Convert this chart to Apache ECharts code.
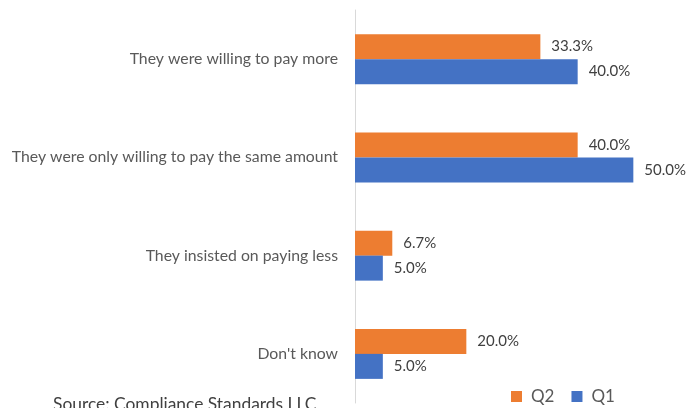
<!DOCTYPE html>
<html>
<head>
<meta charset="utf-8">
<script src="https://cdn.jsdelivr.net/npm/echarts@6/dist/echarts.min.js"></script>
<style>
  html, body { margin: 0; padding: 0; background: #fff; }
  #chart { width: 694px; height: 408px; }
</style>
</head>
<body>
<div id="chart"></div>
<script>
// Survey answers, top to bottom
const categories = [
  'They were willing to pay more',
  'They were only willing to pay the same amount',
  'They insisted on paying less',
  "Don't know"
];
// Share of respondents (%) per quarter
const q2Values = [33.3, 40.0, 6.7, 20.0];
const q1Values = [40.0, 50.0, 5.0, 5.0];
const seriesNames = ['Q2', 'Q1'];
const sourceNote = 'Source: Compliance Standards LLC';

const FONT = 'Lato, "Open Sans", sans-serif';

const chart = echarts.init(document.getElementById('chart'));

const valueLabel = {
  show: true,
  position: 'right',
  distance: 11,
  color: '#404040',
  fontFamily: FONT,
  fontSize: 15,
  formatter: p => p.value.toFixed(1) + '%'
};

chart.setOption({
  animation: false,
  grid: { left: 355, right: 5, top: 10, bottom: 5, containLabel: false },
  xAxis: {
    type: 'value',
    min: 0,
    max: 60,
    show: false
  },
  yAxis: {
    type: 'category',
    data: categories,
    inverse: true,
    axisLine: { show: true, lineStyle: { color: '#d9d9d9', width: 1 } },
    axisTick: { show: false },
    axisLabel: {
      margin: 17,
      color: '#595959',
      fontFamily: FONT,
      fontSize: 15.8
    }
  },
  legend: {
    data: seriesNames,
    left: 511,
    top: 388,
    padding: 0,
    itemWidth: 11,
    itemHeight: 11,
    itemGap: 17,
    icon: 'rect',
    textStyle: { color: '#595959', fontFamily: FONT, fontSize: 17, padding: [0, 0, 0, 4] }
  },
  graphic: [{
    type: 'text',
    left: 53,
    top: 396,
    style: {
      text: sourceNote,
      fill: '#404040',
      font: '17.4px ' + FONT
    }
  }],
  series: [
    {
      name: seriesNames[0],
      type: 'bar',
      data: q2Values,
      barWidth: 25,
      barGap: '0%',
      itemStyle: { color: '#ED7D31' },
      label: valueLabel
    },
    {
      name: seriesNames[1],
      type: 'bar',
      data: q1Values,
      barWidth: 25,
      barGap: '0%',
      itemStyle: { color: '#4472C4' },
      label: valueLabel
    }
  ]
});
</script>
</body>
</html>
